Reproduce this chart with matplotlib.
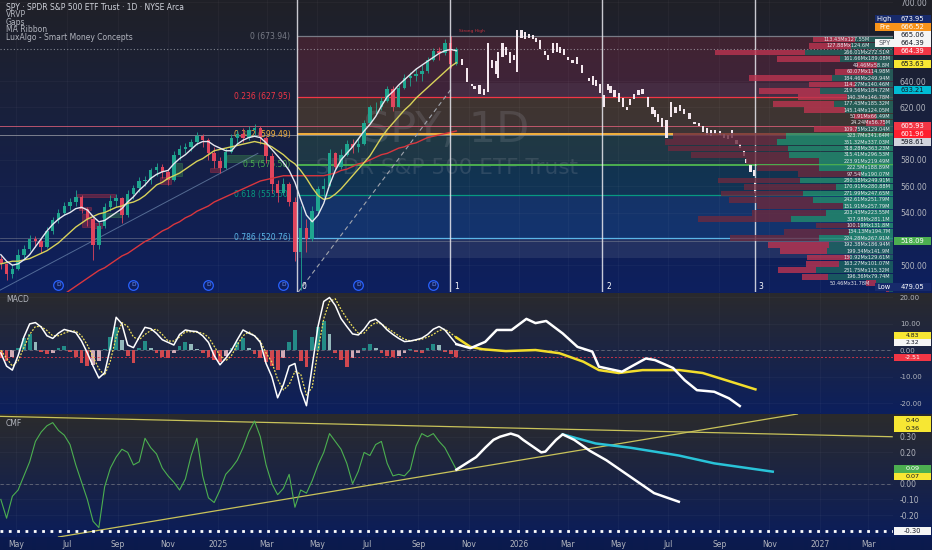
import numpy as np
import pandas as pd
import matplotlib
matplotlib.use("Agg")
import matplotlib.pyplot as plt
import matplotlib.dates as mdates
from matplotlib.colors import to_rgb
from matplotlib.patches import Rectangle

# ---------------- data ----------------
# weekly history (Friday bars) starting 2024-04-12
hist_start = "2024-04-12"
opens = [505, 501, 493, 497, 508, 512, 520, 518, 514, 526, 534, 540, 545, 548, 552, 543, 535, 515, 530, 544,
         549, 551, 538, 554, 559, 564, 565, 572, 575, 571, 565, 584, 588, 590, 594, 598, 595, 585, 579, 574,
         586, 597, 600, 597, 603, 604, 597, 583, 562, 555, 562, 548, 510, 528, 520, 541, 558, 560, 585, 575,
         584, 592, 590, 592, 608, 620, 620, 625, 634, 620, 635, 642, 644, 645, 648, 656, 663, 661, 669, 653]
highs = [507, 502, 501, 512, 515, 523, 522, 521, 529, 537, 543, 548, 551, 557, 553, 544, 537, 533, 547, 553,
         554, 552, 557, 561, 567, 568, 574, 578, 577, 573, 587, 591, 593, 596, 601, 600, 597, 590, 582, 589,
         600, 603, 604, 606, 607, 606, 598, 585, 565, 566, 563, 552, 545, 535, 545, 560, 566, 588, 586, 588,
         595, 596, 597, 610, 622, 624, 628, 636, 636, 637, 645, 647, 650, 652, 658, 665, 666, 672, 673.9, 666]
lows = [497, 489, 490, 496, 505, 511, 514, 509, 513, 524, 532, 538, 542, 545, 540, 530, 504, 512, 528, 541,
        544, 532, 537, 550, 556, 560, 562, 568, 566, 561, 564, 580, 585, 587, 591, 590, 580, 574, 570, 573,
        585, 592, 594, 595, 598, 592, 578, 555, 548, 553, 545, 503, 481, 510, 518, 538, 552, 560, 572, 573,
        583, 585, 586, 591, 607, 615, 618, 624, 617, 620, 634, 636, 640, 640, 646, 655, 656, 660, 650, 652]
closes = [501, 493, 497, 508, 512, 520, 518, 514, 526, 534, 540, 545, 548, 552, 543, 535, 515, 530, 544, 549,
          551, 538, 554, 559, 564, 565, 572, 575, 571, 565, 584, 588, 590, 594, 598, 595, 585, 579, 574, 586,
          597, 600, 597, 603, 604, 597, 583, 562, 555, 562, 548, 510, 528, 520, 541, 558, 560, 585, 575, 584,
          592, 590, 592, 608, 620, 620, 625, 634, 620, 635, 642, 644, 645, 648, 656, 663, 661, 669, 653, 664.39]
ma_fast = [508, 503, 500, 501, 504, 508, 514, 520, 526, 531, 535, 538, 540, 543, 544, 542, 537, 533, 534, 537,
           540, 543, 548, 552, 557, 561, 566, 569, 571, 572, 577, 581, 584, 588, 592, 594, 594, 591, 589, 587,
           587, 592, 595, 597, 598, 597, 593, 588, 583, 578, 572, 563, 550, 538, 533, 538, 547, 561, 572, 580,
           585, 590, 596, 602, 607, 613, 621, 628, 632, 637, 641, 645, 649, 652, 655, 658, 661, 663, 664, 663]
ma_mid = [501, 502, 503, 503, 504, 505, 507, 509, 511, 514, 517, 521, 525, 529, 532, 535, 537, 539, 540, 542,
          544, 545, 547, 548, 550, 553, 557, 561, 563, 566, 568, 570, 573, 576, 579, 581, 584, 587, 588, 589,
          590, 591, 592, 593, 594, 593, 592, 590, 587, 584, 580, 577, 572, 566, 559, 553, 550, 551, 554, 558,
          563, 568, 573, 578, 583, 590, 597, 603, 608, 613, 618, 622, 627, 631, 635, 639, 643, 647, 651, 654]
ma_slow = [445, 448, 451, 454, 457, 460, 463, 466, 469, 472, 475, 478, 481, 484, 487, 490, 493, 496, 498, 501,
           504, 507, 509, 512, 515, 518, 520, 523, 526, 528, 531, 533, 536, 538, 541, 543, 545, 548, 550, 552,
           554, 556, 558, 560, 562, 564, 565, 566, 567, 568, 568, 568, 568, 568, 568, 568, 568, 569, 570, 572,
           573, 575, 577, 578, 580, 582, 584, 585, 587, 589, 590, 592, 593, 595, 597, 598, 599, 600, 601, 602]
macd = [-1, -6, -7.5, -2, 5, 10, 10.5, 8.8, 5.5, 4.5, 6.5, 7.9, 7.3, 6.7, 3.5, -1, -6, -10.5, -8.5, 1,
        12.5, 10, 2, 1, 5, 8.7, 8.2, 6.4, 4, 3, 2, 6, 7.7, 7.3, 7.1, 5.5, 3, -2, -5.5, -3,
        0, 4, 7.7, 6.5, 5.5, 3, -5, -10, -18, -13, -6, -5, -15, -21, -6, 9, 18.5, 20, 17, 12,
        9, 6.2, 5.8, 8, 11, 11.8, 10, 7.7, 6, 4.5, 3.3, 3.5, 4, 4.6, 6, 8, 9, 7.7, 5, 2.32]
signal = [0, -3, -6, -4, 1, 6, 9, 9, 7.5, 5.5, 5.5, 6.5, 7.3, 7.3, 5.5, 2, -2.5, -7, -9.5, -4,
          5, 10.5, 9, 5, 4, 6, 7.5, 8, 6, 3.5, 3.5, 5, 7, 7, 6.8, 6.5, 5, 1.5, -2, -4,
          -2, 2, 5.5, 7, 5.5, 3.5, -1, -4.5, -11, -15, -13, -8, -9, -17, -14, 0, 12, 18.5, 19.5, 15.5,
          12, 9, 6.5, 6.5, 9, 10.5, 10, 8.5, 7, 5.5, 4.2, 3.6, 3.8, 4.2, 5, 6, 7.5, 8, 6.5, 4.83]
macd_hist = [-3, -4, -2.5, 1, 4.5, 6, 3, -0.5, -1.5, -1, 1, 1.5, -0.5, -2.5, -5, -6, -5.5, -4, 0.5, 5,
             9, 4, -2, -5, 1, 3.5, 1, -1, -2.5, -3, -1, 1.5, 3, 2.5, 0.5, -1, -2.5, -3.5, -4.3, -2,
             1, 3, 4.5, 1, -1.5, -3, -4.5, -6, -7.5, -3, 3, 7.7, -4, -6.2, 5, 9, 11, 6, -1, -3.5,
             -6.2, -3, -1, 1, 2.5, 1, -1, -2, -2.4, -2, -1, 0.5, -0.5, -1, 1, 2.5, 2, -0.5, -1.5, -2.51]
cmf = [-0.10, -0.22, -0.08, -0.04, 0.05, 0.14, 0.27, 0.33, 0.37, 0.39, 0.34, 0.31, 0.25, 0.12, 0.01, -0.10,
       -0.24, -0.28, -0.02, 0.10, 0.17, 0.22, 0.20, 0.12, 0.14, 0.29, 0.23, 0.19, 0.10, 0.05, 0.01, -0.04,
       0.03, 0.18, 0.29, 0.05, -0.09, -0.12, -0.04, 0.06, 0.10, 0.15, 0.23, 0.33, 0.40, 0.30, 0.12, 0.00,
       -0.07, -0.03, 0.06, -0.15, -0.04, -0.06, 0.02, 0.12, 0.20, 0.32, 0.27, 0.22, 0.13, 0.00, 0.08, 0.20,
       0.18, 0.25, 0.27, 0.13, 0.05, 0.06, 0.05, 0.09, 0.24, 0.32, 0.30, 0.32, 0.27, 0.23, 0.16, 0.09]

# projected (drawn) bars
proj_dates = ["2025-10-24", "2025-10-30", "2025-11-05", "2025-11-08", "2025-11-14", "2025-11-19", "2025-11-24",
              "2025-11-29", "2025-12-04", "2025-12-07", "2025-12-12", "2025-12-16", "2025-12-21", "2025-12-26",
              "2025-12-30", "2026-01-04", "2026-01-08", "2026-01-13", "2026-01-18", "2026-01-22", "2026-01-27",
              "2026-02-02", "2026-02-05", "2026-02-11", "2026-02-16", "2026-02-20", "2026-02-25", "2026-03-02",
              "2026-03-07", "2026-03-12", "2026-03-18", "2026-03-27", "2026-04-01", "2026-04-04", "2026-04-09",
              "2026-04-14", "2026-04-19", "2026-04-22", "2026-04-27", "2026-05-02", "2026-05-07", "2026-05-12",
              "2026-05-16", "2026-05-21", "2026-05-26", "2026-05-31", "2026-06-07", "2026-06-12", "2026-06-15",
              "2026-06-19", "2026-06-24", "2026-06-29", "2026-07-05", "2026-07-10", "2026-07-15", "2026-07-20",
              "2026-07-27", "2026-08-02", "2026-08-07", "2026-08-12", "2026-08-17", "2026-08-22", "2026-08-27",
              "2026-09-02", "2026-09-07", "2026-09-12", "2026-09-17", "2026-09-22", "2026-09-26", "2026-10-01",
              "2026-10-04", "2026-10-09", "2026-10-13", "2026-10-15"]
proj_lo = [652, 639, 636, 634, 630, 629, 632, 650, 645, 642, 658, 660, 654, 656, 647, 673, 672, 673, 672, 670,
           664, 660, 656, 661, 662, 661, 660, 656, 654, 653, 646, 640, 637, 636, 631, 620, 633, 631, 628, 624,
           620, 618, 622, 626, 629, 630, 620, 615, 613, 609, 605, 597, 613, 616, 617, 615, 611, 607, 606, 601,
           599, 598, 600, 599, 597, 596, 597, 592, 589, 583, 578, 571, 568, 555]
proj_hi = [657, 650, 638, 636, 637, 634, 669, 656, 655, 662, 669, 666, 662, 660, 679, 679, 677, 676, 675, 673,
           671, 663, 660, 669, 669, 666, 664, 658, 656, 658, 652, 642, 644, 641, 638, 629, 638, 636, 633, 631,
           627, 620, 626, 630, 633, 634, 628, 620, 618, 615, 612, 610, 624, 620, 622, 619, 616, 609, 608, 606,
           604, 603, 603, 602, 600, 599, 603, 595, 592, 587, 581, 576, 572, 563]

macd_proj_dates = ["2025-10-17", "2025-11-03", "2025-11-21", "2025-12-05", "2025-12-23", "2026-01-10",
                   "2026-01-21", "2026-02-03", "2026-02-23", "2026-03-13", "2026-03-31", "2026-04-08",
                   "2026-04-21", "2026-05-06", "2026-06-04", "2026-06-15", "2026-07-07", "2026-07-21",
                   "2026-08-05", "2026-08-26", "2026-09-13", "2026-09-26"]
macd_proj = [2.32, 0.8, 3.2, 7.7, 7.7, 11.9, 10.3, 11.1, 6.4, 1.3, -0.5, -6.2, -7.1, -8.1, -3.1, -3.7,
             -6.7, -11.3, -15.1, -15.7, -18.2, -21.1]
sig_proj_dates = ["2025-10-17", "2025-11-03", "2025-11-18", "2025-12-16", "2026-01-21", "2026-02-19",
                  "2026-03-20", "2026-04-08", "2026-05-02", "2026-05-31", "2026-07-15", "2026-08-12",
                  "2026-09-09", "2026-10-15"]
sig_proj = [4.83, 1.3, 0.4, -0.3, 0.1, -1.1, -4.3, -7.5, -8.6, -7.5, -7.5, -8.6, -11.3, -14.8]
cmf_proj_dates = ["2025-10-17", "2025-11-10", "2025-11-21", "2025-12-01", "2025-12-09", "2025-12-22",
                  "2025-12-31", "2026-01-06", "2026-01-17", "2026-01-28", "2026-02-02", "2026-02-08",
                  "2026-02-15", "2026-02-23", "2026-03-09", "2026-03-28", "2026-04-17", "2026-05-16",
                  "2026-06-14", "2026-07-14"]
cmf_proj = [0.09, 0.17, 0.23, 0.28, 0.30, 0.32, 0.305, 0.28, 0.24, 0.20, 0.205, 0.24, 0.28, 0.315, 0.28,
            0.21, 0.15, 0.045, -0.06, -0.115]
cmf_alt_dates = ["2026-02-23", "2026-04-04", "2026-05-16", "2026-07-14", "2026-08-26", "2026-11-05"]
cmf_alt = [0.315, 0.257, 0.23, 0.18, 0.13, 0.077]
cmf_upper_line = (["2024-04-11", "2027-03-30"], [0.43, 0.30])
cmf_lower_line = (["2024-06-21", "2026-12-05"], [-0.34, 0.445])

# fib retracement
fib_start = "2025-04-07"
fib_high = 673.94
fib_low = 479.05
fib_ratios = [0, 0.236, 0.382, 0.5, 0.618, 0.786]
fib_colors = ["#787b86", "#f23645", "#f5b13d", "#4caf50", "#089981", "#5bb6e8"]
zone_colors = ["#f23645", "#ff9800", "#4caf50", "#089981", "#2196f3"]
time_zone_dates = ["2025-04-07", "2025-10-09", "2026-04-12", "2026-10-14"]
dividend_dates = ["2024-06-21", "2024-09-20", "2024-12-20", "2025-03-21", "2025-06-20", "2025-09-19"]
trend_line = (["2024-04-11", "2025-02-18"], [481, 585])
fib_diag = (["2025-04-08", "2025-10-12"], [479.5, 635])

# smart money concept boxes: start, end, low, high, kind
smc_boxes = [("2024-07-14", "2024-08-29", 551.5, 553.8, "bear"),
             ("2024-07-16", "2024-07-31", 542, 544, "bear"),
             ("2024-07-20", "2024-07-31", 529, 539, "bear"),
             ("2024-07-31", "2024-08-13", 528, 532, "bear"),
             ("2024-08-13", "2024-09-06", 536.6, 540, "bull"),
             ("2024-10-22", "2024-11-04", 562, 567, "bear"),
             ("2024-11-06", "2024-11-18", 568, 578, "bull"),
             ("2024-12-22", "2025-01-03", 571, 574, "bear"),
             ("2025-01-12", "2025-02-24", 578.4, 583.7, "bull")]

# volume profile rows (top to bottom), up / down volume in millions
vp_up = [113.43, 127.88, 266.01, 161.66, 49.46, 60.07, 184.46, 114.27, 219.56, 140.3, 177.43, 145.14, 50.91,
         24.24, 109.75, 323.7, 351.32, 318.28, 315.41, 223.91, 222.5, 97.54, 280.38, 170.91, 271.99, 242.61,
         151.91, 203.43, 307.98, 100.19, 134.13, 224.28, 192.38, 199.34, 130.92, 163.27, 231.75, 196.36,
         50.46, 12.1]
vp_down = [127.55, 124.6, 272.51, 189.08, 58.8, 114.98, 249.94, 140.46, 184.72, 146.78, 185.32, 124.05, 66.49,
           56.75, 129.04, 341.64, 337.03, 363.23, 296.53, 219.49, 188.89, 190.07, 249.91, 280.88, 247.65,
           251.79, 257.79, 223.55, 281.1, 131.8, 194.7, 267.91, 186.94, 141.9, 129.61, 101.07, 115.32, 79.74,
           31.78, 9.4]

# ---------------- figure ----------------
W, H = 932, 550
PLOT_R = 893
fig = plt.figure(figsize=(W / 100, H / 100), dpi=100)


def dn(s):
    return mdates.date2num(pd.to_datetime(s))


def rect(top, bottom):
    return [0, 1 - bottom / H, PLOT_R / W, (bottom - top) / H]


# background gradient (grey at top of each pane fading to navy)
bg_rows = np.zeros((H, 1, 3))


def grad(top, bottom, c1, c2):
    c1, c2 = np.array(to_rgb(c1)), np.array(to_rgb(c2))
    t = np.linspace(0, 1, bottom - top)[:, None]
    bg_rows[top:bottom, 0, :] = c1 * (1 - t) + c2 * t


grad(0, 293, "#202127", "#0d1f5f")
grad(293, 414, "#2a2a2d", "#0c1f5d")
grad(414, 537, "#2b2b2c", "#0b1d5a")
grad(537, 550, "#0b1b50", "#0b1a4c")
bg = fig.add_axes([0, 0, 1, 1], zorder=-5)
bg.imshow(bg_rows, aspect="auto", extent=[0, 1, 0, 1], interpolation="bilinear")
bg.axis("off")

ax = fig.add_axes(rect(0, 292))
ax2 = fig.add_axes(rect(293, 413), sharex=ax)
ax3 = fig.add_axes(rect(414, 537), sharex=ax)

x0, x1 = dn("2024-04-11"), dn("2027-03-31")
axis_col = "#b2b5be"
for a in (ax, ax2, ax3):
    a.set_facecolor("none")
    for s in a.spines.values():
        s.set_visible(False)
    a.yaxis.tick_right()
    a.tick_params(axis="y", length=0, pad=5, labelsize=5.5, labelcolor=axis_col)
    a.tick_params(axis="x", length=0)
    a.grid(True, color="white", alpha=0.04, lw=0.6)
ax.set_xlim(x0, x1)
ax.tick_params(axis="x", labelbottom=False)
ax2.tick_params(axis="x", labelbottom=False)
ax2.tick_params(axis="y", labelsize=5)
ax3.tick_params(axis="x", labelsize=5.5, labelcolor=axis_col, pad=2.5)
ax3.xaxis.set_major_locator(mdates.MonthLocator(bymonth=[1, 3, 5, 7, 9, 11]))
ax3.xaxis.set_major_formatter(plt.FuncFormatter(
    lambda v, p: str(mdates.num2date(v).year) if mdates.num2date(v).month == 1 else mdates.num2date(v).strftime("%b")))

# ---------------- main price pane ----------------
ax.set_ylim(479.6, 701.6)
ax.set_yticks([500, 540, 560, 580, 620, 640, 700])
ax.yaxis.set_major_formatter(plt.FormatStrFormatter("%.2f"))

fs = dn(fib_start)
levels = [fib_high - r * (fib_high - fib_low) for r in fib_ratios]
for i in range(len(levels) - 1):
    ax.fill_between([fs, x1], levels[i + 1], levels[i], color=zone_colors[i], alpha=0.17, lw=0, zorder=1)
# gaps
ax.fill_between([dn("2025-04-09"), x1], 505.5, 520.8, color="#9aa0b0", alpha=0.14, lw=0, zorder=1)
ax.fill_between([dn("2025-10-10"), x1], 628, 638.5, color="#9aa0b0", alpha=0.08, lw=0, zorder=1)

# full-width horizontal lines
ax.axhline(605.93, color="#e0607a", lw=0.7, alpha=0.8, zorder=2)
ax.axhline(598.61, color="#9598a1", lw=0.7, alpha=0.8, zorder=2)
ax.axhline(520.76, color="#9598a1", lw=0.6, alpha=0.5, zorder=2)
ax.axhline(518.09, color="#9598a1", lw=0.6, alpha=0.5, zorder=2)
ax.axhline(664.39, color="#c8cad0", lw=0.8, ls=(0, (1, 2)), alpha=0.6, zorder=2)

for r, lev, c in zip(fib_ratios, levels, fib_colors):
    lw = 1.4 if r in (0.382, 0.5) else 0.9
    ax.hlines(lev, fs, x1, color=c, lw=lw, zorder=2)
    lab = "0" if r == 0 else f"{r:g}"
    ax.annotate(f"{lab} ({lev:.2f})", xy=(fs, lev), xytext=(-5, 0), textcoords="offset points",
                ha="right", va="center", fontsize=5.5, color=c, zorder=3)

# smart money boxes
for s, e, lo, hi, kind in smc_boxes:
    c = "#f23645" if kind == "bear" else "#4caf50"
    ax.add_patch(Rectangle((dn(s), lo), dn(e) - dn(s), hi - lo, fc=c, ec=c, alpha=0.3, lw=0.6, zorder=3))

# trend lines and moving averages
weeks = mdates.date2num(pd.date_range(hist_start, periods=len(closes), freq="7D"))
ax.plot(dn(trend_line[0]), trend_line[1], color="#7f9cc0", lw=0.7, alpha=0.6, zorder=3)
ax.plot(dn(fib_diag[0]), fib_diag[1], color="#a0a4ad", lw=0.8, ls=(0, (4, 3)), zorder=3)
ax.plot(weeks, ma_slow, color="#d9363e", lw=1.0, zorder=5)
ax.plot(weeks, ma_mid, color="#d8d25a", lw=1.0, zorder=5)
ax.plot(weeks, ma_fast, color="#e6e8f0", lw=1.0, zorder=5)

# candles
o, h, l, c = map(np.array, (opens, highs, lows, closes))
ccol = np.where(c >= o, "#1fa58f", "#e0455d")
ax.vlines(weeks, l, h, colors=ccol, lw=0.6, zorder=4)
ax.bar(weeks, np.maximum(np.abs(c - o), 0.6), bottom=np.minimum(o, c), width=4.2, color=ccol, zorder=4)
px = dn(proj_dates)
ax.bar(px, np.array(proj_hi) - np.array(proj_lo), bottom=proj_lo, width=2.6, color="#f4e8ee", zorder=4)
ax.text(dn("2025-10-20"), 677, "Strong High", fontsize=3.2, color="#f23645", alpha=0.8, zorder=4)

# fib time zones
for i, d in enumerate(time_zone_dates):
    ax.axvline(dn(d), color="#e8e8ee", lw=1.0, alpha=0.85, zorder=6)
    ax.annotate(str(i), xy=(dn(d), 0.02), xycoords=ax.get_xaxis_transform(), xytext=(3, 0),
                textcoords="offset points", fontsize=5.5, color="white", va="center", zorder=7)

# dividends
tr = ax.get_xaxis_transform()
for d in dividend_dates:
    ax.scatter(dn(d), 0.024, s=48, transform=tr, fc="#0f1f5e", ec="#2962ff", lw=0.9, zorder=6)
    ax.text(dn(d), 0.024, "D", transform=tr, fontsize=4.2, color="#6f95ff", ha="center", va="center", zorder=7)

# watermark
ax.text(0.5, 1 - 130 / 292, "SPY, 1D", transform=ax.transAxes, fontsize=31, color="#9ea2ad", alpha=0.2,
        ha="center", va="center", zorder=1)
ax.text(0.5, 1 - 168 / 292, "SPDR S&P 500 ETF Trust", transform=ax.transAxes, fontsize=15.5, color="#9ea2ad",
        alpha=0.2, ha="center", va="center", zorder=1)

# volume profile
vp = ax.twiny()
vp.set_xlim(2700, 0)
vp.axis("off")
row_h = (fib_high - fib_low) / len(vp_up)
centers = [fib_high - row_h * (i + 0.5) for i in range(len(vp_up))]
for i, (u, d, yc) in enumerate(zip(vp_up, vp_down, centers)):
    in_va = 15 <= i <= 31
    vp.barh(yc, u, left=0, height=row_h * 0.9, color="#23876c" if in_va else "#1d6a62",
            alpha=0.85 if in_va else 0.75, lw=0)
    vp.barh(yc, d, left=u, height=row_h * 0.9, color="#6b2a3e" if in_va else "#bc3450",
            alpha=0.8, lw=0)
    if i < len(vp_up) - 1:
        shifted = i <= 1 or i >= len(vp_up) - 2
        vp.text(70 if shifted else 8, yc, f"{u:g}Mx{d:g}M", fontsize=3.6, color="#e8e8ee",
                ha="right", va="center")

# ---------------- MACD pane ----------------
ax2.set_ylim(-23.75, 21.7)
ax2.set_yticks([-20, -10, 0, 10, 20])
ax2.yaxis.set_major_formatter(plt.FormatStrFormatter("%.2f"))
hv = np.array(macd_hist)
hcol = []
for i, v in enumerate(hv):
    prev = hv[i - 1] if i else v
    if v >= 0:
        hcol.append("#26a69a" if v >= prev else "#b2dfdb")
    else:
        hcol.append("#ff5252" if v <= prev else "#ffcdd2")
ax2.bar(weeks, hv, width=4.6, color=hcol, alpha=0.8, zorder=2)
ax2.axhline(0, color="#787b86", lw=0.6, ls=(0, (4, 3)), alpha=0.8)
ax2.axhline(-2.51, color="#f23645", lw=0.7, ls=(0, (2, 2)), alpha=0.8)
ax2.plot(weeks, signal, color="#f0e15a", lw=0.9, ls=(0, (1.5, 1.2)), zorder=3)
ax2.plot(weeks, macd, color="white", lw=1.1, zorder=4)
ax2.plot(dn(sig_proj_dates), sig_proj, color="#f2dd2c", lw=1.8, zorder=4, solid_joinstyle="round")
ax2.plot(dn(macd_proj_dates), macd_proj, color="white", lw=1.8, zorder=5, solid_joinstyle="round")

# ---------------- CMF pane ----------------
ax3.set_ylim(-0.34, 0.445)
ax3.set_yticks([-0.2, -0.1, 0, 0.2, 0.3])
ax3.yaxis.set_major_formatter(plt.FormatStrFormatter("%.2f"))
ax3.axhline(0, color="#787b86", lw=0.6, ls=(0, (4, 3)), alpha=0.8)
ax3.axhline(-0.30, color="white", lw=2.0, ls=(0, (1, 2)), zorder=5)
ax3.plot(dn(cmf_upper_line[0]), cmf_upper_line[1], color="#c9c35a", lw=0.9, zorder=2)
ax3.plot(dn(cmf_lower_line[0]), cmf_lower_line[1], color="#c9c35a", lw=0.9, zorder=2)
ax3.plot(weeks, cmf, color="#4caf50", lw=0.8, zorder=3)
ax3.plot(dn(cmf_alt_dates), cmf_alt, color="#29c3d8", lw=1.8, zorder=4, solid_joinstyle="round")
ax3.plot(dn(cmf_proj_dates), cmf_proj, color="white", lw=1.8, zorder=4, solid_joinstyle="round")

# ---------------- texts and scale tags ----------------
fig.text(6 / W, 1 - 7 / H, "SPY · SPDR S&P 500 ETF Trust · 1D · NYSE Arca", fontsize=5.5, color="#d1d4dc",
         va="center")
for k, t in enumerate(["VRVP", "Gaps", "MA Ribbon", "LuxAlgo - Smart Money Concepts"]):
    fig.text(6 / W, 1 - (14.7 + 7.6 * k) / H, t, fontsize=5.5, color="#b2b5be", va="center")
fig.text(6 / W, 1 - 299 / H, "MACD", fontsize=5.5, color="#b2b5be", va="center")
fig.text(6 / W, 1 - 423 / H, "CMF", fontsize=5.5, color="#b2b5be", va="center")


def tag(ypix, text, fc, tc, prefix=None, size=4.9, hpx=8):
    if prefix:
        fig.add_artist(Rectangle((875 / W, 1 - (ypix + hpx / 2) / H), 19 / W, hpx / H, transform=fig.transFigure,
                                 fc=fc if prefix != "SPY" else "#f5f5f5", ec="none", zorder=5))
        fig.text(884.5 / W, 1 - ypix / H, prefix, fontsize=size, ha="center", va="center",
                 color=tc if prefix != "SPY" else "#555a66", zorder=6)
    fig.add_artist(Rectangle((894 / W, 1 - (ypix + hpx / 2) / H), 37 / W, hpx / H, transform=fig.transFigure,
                             fc=fc, ec="none", zorder=5))
    fig.text(912.5 / W, 1 - ypix / H, text, fontsize=size, ha="center", va="center", color=tc, zorder=6)


tag(19, "673.95", "#172a6b", "white", "High")
tag(27, "666.52", "#f7931a", "white", "Pre")
tag(35, "665.06", "#f5f5f5", "#131722")
tag(43, "664.39", "#f5f5f5", "#131722", "SPY")
tag(51, "664.39", "#f23645", "white")
tag(64, "653.63", "#f7e733", "#131722")
tag(90.3, "633.21", "#00bcd4", "#131722")
tag(126, "605.93", "#f23645", "white")
tag(134, "601.96", "#ff1e2d", "white")
tag(142, "598.61", "#d1d4dc", "#131722")
tag(241, "518.09", "#4caf50", "white")
tag(286.7, "479.05", "#172a6b", "white", "Low")
tag(335.5, "4.83", "#f7e733", "#131722", size=4.4, hpx=7)
tag(342.7, "2.32", "#f5f5f5", "#131722", size=4.4, hpx=7)
tag(357.8, "-2.51", "#f23645", "white", size=4.4, hpx=7)
tag(420, "0.40", "#f7e733", "#131722", size=4.6, hpx=7.5)
tag(428, "0.36", "#f7e733", "#131722", size=4.6, hpx=7.5)
tag(469, "0.09", "#4caf50", "white", size=4.6, hpx=7.5)
tag(476.5, "0.07", "#f7e733", "#131722", size=4.6, hpx=7.5)
tag(530.7, "-0.30", "#f5f5f5", "#131722")

fig.savefig("out.png", dpi=100)
